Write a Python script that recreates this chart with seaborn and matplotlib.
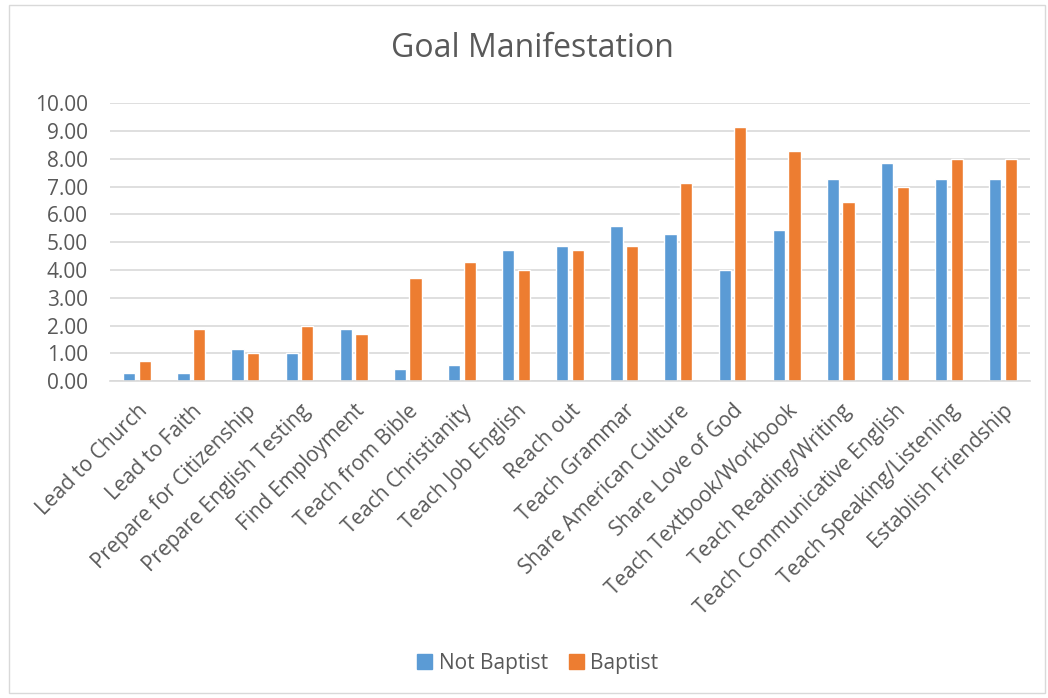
import matplotlib
matplotlib.use("Agg")
import matplotlib.pyplot as plt
import matplotlib.patches as mpatches
import seaborn as sns
import pandas as pd
import numpy as np

categories = ["Lead to Church", "Lead to Faith", "Prepare for Citizenship",
              "Prepare English Testing", "Find Employment", "Teach from Bible",
              "Teach Christianity", "Teach Job English", "Reach out",
              "Teach Grammar", "Share American Culture", "Share Love of God",
              "Teach Textbook/Workbook", "Teach Reading/Writing",
              "Teach Communicative English", "Teach Speaking/Listening",
              "Establish Friendship"]
not_baptist = [0.29, 0.29, 1.14, 1.00, 1.86, 0.43, 0.57, 4.71, 4.86,
               5.57, 5.29, 4.00, 5.43, 7.29, 7.86, 7.29, 7.29]
baptist = [0.71, 1.86, 1.00, 2.00, 1.71, 3.71, 4.29, 4.00, 4.71,
           4.86, 7.14, 9.14, 8.29, 6.43, 7.00, 8.00, 8.00]
series_names = ["Not Baptist", "Baptist"]
colors = ["#5B9BD5", "#ED7D31"]

df = pd.DataFrame({
    "category": categories * 2,
    "series": [series_names[0]] * len(categories) + [series_names[1]] * len(categories),
    "value": not_baptist + baptist,
})

sns.set_theme(style="white")
plt.rcParams['font.family'] = ['Open Sans', 'DejaVu Sans']
text_color = "#595959"

fig = plt.figure(figsize=(10.48, 6.98), dpi=100)
ax = fig.add_axes([0.105, 0.454, 0.878, 0.398])

sns.barplot(data=df, x="category", y="value", hue="series",
            palette=colors, saturation=1, width=0.58, gap=0.22, ax=ax,
            legend=False)

ax.set_ylim(0, 10)
ax.set_yticks(np.arange(0, 11, 1))
ax.set_yticklabels([f"{v:.2f}" for v in range(11)], fontsize=15, color=text_color)
ax.yaxis.grid(True, color="#D9D9D9", linewidth=1.2)
ax.set_axisbelow(True)
ax.set_xlim(-0.5, len(categories) - 0.5)
ax.set_xlabel("")
ax.set_ylabel("")
ax.set_xticks(range(len(categories)))
ax.set_xticklabels(categories, rotation=45, ha="right", rotation_mode="anchor",
                   fontsize=15, color=text_color)
ax.tick_params(axis="y", length=0, pad=16)
ax.tick_params(axis="x", length=0, pad=14)
for s in ["top", "right", "left"]:
    ax.spines[s].set_visible(False)
ax.spines["bottom"].set_color("#D9D9D9")
ax.spines["bottom"].set_linewidth(1.2)

fig.text(0.508, 0.93, "Goal Manifestation", ha="center", va="center",
         fontsize=23, color=text_color)

handles = [mpatches.Patch(color=c, label=n) for c, n in zip(colors, series_names)]
fig.legend(handles=handles, loc="center", bbox_to_anchor=(0.513, 0.05), ncol=2,
           frameon=False, fontsize=15, labelcolor=text_color,
           handlelength=0.75, handleheight=0.75, handletextpad=0.3, columnspacing=1.0)

border = mpatches.Rectangle((9 / 1048, 5 / 698), 1036 / 1048, 688 / 698,
                            transform=fig.transFigure, fill=False,
                            edgecolor="#D9D9D9", linewidth=1)
fig.patches.append(border)

fig.savefig("out.png", dpi=100)
